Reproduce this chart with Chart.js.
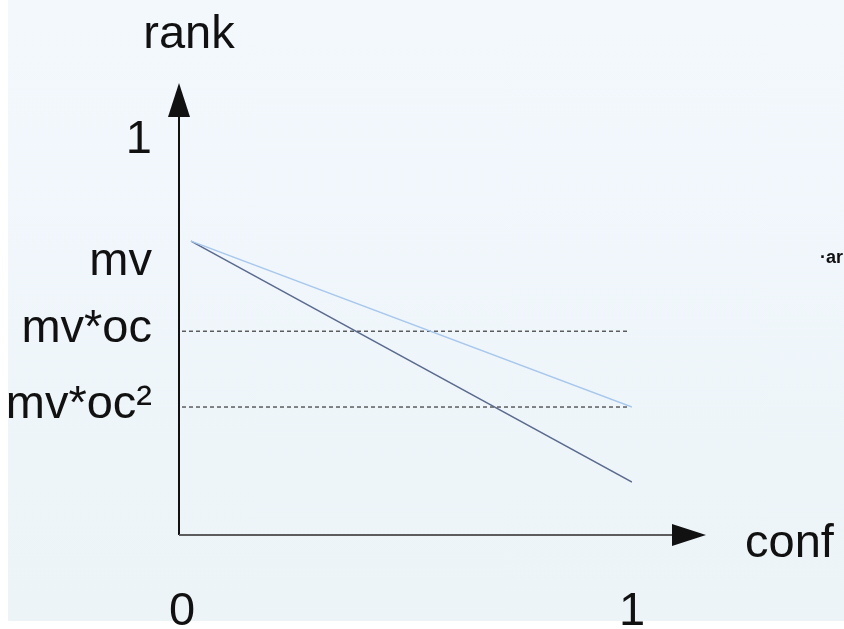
<!DOCTYPE html>
<html>
<head>
<meta charset="utf-8">
<script src="https://cdn.jsdelivr.net/npm/chart.js@4"></script>
<style>
  html, body { margin: 0; padding: 0; background: #ffffff; }
  #frame {
    position: absolute; left: 8px; top: 0; width: 836px; height: 621px;
    background: linear-gradient(#f3f8fd, #ecf4f8);
  }
  #wrap { position: absolute; left: 0; top: 0; width: 844px; height: 629px; }
</style>
</head>
<body>
<div id="frame"></div>
<div id="wrap"><canvas id="rankChart"></canvas></div>
<script>
// confidence on x, rank on y
const conf = [0.02, 1];
const rankSlow = [0.744, 0.324];   // decays down to mv*oc^2
const rankFast = [0.744, 0.134];
const guideConf = [0, 0.995];
const guideLevels = [0.516, 0.324]; // mv*oc, mv*oc^2

const yTickValues = [1, 0.691, 0.522, 0.33];
const yTickLabels = ["1", "mv", "mv*oc", "mv*oc\u00b2"];
const xTickValues = [0, 1];
const xTickLabels = ["0", "1"];

const FONT = "'Liberation Sans', Arial, sans-serif";
const SIZE = 47;

function pts(xs, ys) {
  return xs.map((x, i) => ({ x: x, y: ys[i] }));
}

const datasets = [
  { data: pts(conf, rankSlow), borderColor: "#a7c7ec", borderWidth: 1.5 },
  { data: pts(conf, rankFast), borderColor: "#5a6a8e", borderWidth: 1.5 }
];
guideLevels.forEach(level => {
  datasets.push({
    data: pts(guideConf, [level, level]),
    borderColor: "#111111",
    borderWidth: 1,
    borderDash: [4, 3]
  });
});

// axis lines with arrow heads plus the two axis names
const arrowAxes = {
  id: "arrowAxes",
  afterDatasetsDraw(chart) {
    const ctx = chart.ctx;
    const xs = chart.scales.x, ys = chart.scales.y;
    const ox = xs.getPixelForValue(0) - 3;
    const oy = ys.getPixelForValue(0);
    ctx.save();
    // y axis
    ctx.strokeStyle = "#111111";
    ctx.lineWidth = 2;
    ctx.beginPath();
    ctx.moveTo(ox, oy);
    ctx.lineTo(ox, 117);
    ctx.stroke();
    ctx.fillStyle = "#111111";
    ctx.beginPath();
    ctx.moveTo(ox, 83);
    ctx.lineTo(ox - 11, 117);
    ctx.lineTo(ox + 11, 117);
    ctx.closePath();
    ctx.fill();
    // x axis
    ctx.strokeStyle = "#5c5c5c";
    ctx.beginPath();
    ctx.moveTo(ox, oy);
    ctx.lineTo(672, oy);
    ctx.stroke();
    ctx.beginPath();
    ctx.moveTo(706, oy);
    ctx.lineTo(672, oy - 11);
    ctx.lineTo(672, oy + 11);
    ctx.closePath();
    ctx.fill();
    // names
    ctx.font = SIZE + "px " + FONT;
    ctx.fillStyle = "#111111";
    ctx.textBaseline = "alphabetic";
    ctx.textAlign = "center";
    ctx.fillText("rank", 189, 48);
    ctx.textAlign = "left";
    ctx.fillText("conf", 745, 557);
    ctx.font = "bold 18px " + FONT;
    ctx.fillText("\u00b7ar", 820, 263);
    ctx.restore();
  }
};

new Chart(document.getElementById("rankChart"), {
  type: "line",
  data: { datasets: datasets },
  options: {
    responsive: true,
    maintainAspectRatio: false,
    animation: false,
    layout: { padding: { top: 140, right: 212, left: 0, bottom: 0 } },
    elements: { point: { radius: 0 }, line: { tension: 0 } },
    plugins: { legend: { display: false }, tooltip: { enabled: false } },
    scales: {
      x: {
        type: "linear",
        min: 0,
        max: 1,
        border: { display: false },
        grid: { display: false, drawTicks: false },
        afterBuildTicks: s => { s.ticks = xTickValues.map(v => ({ value: v })); },
        afterFit: s => { s.height = 94; },
        ticks: {
          padding: 49,
          color: "#111111",
          font: { family: FONT, size: SIZE },
          callback: (v, i) => xTickLabels[i]
        }
      },
      y: {
        type: "linear",
        min: 0,
        max: 1,
        border: { display: false },
        grid: { display: false, drawTicks: false },
        afterBuildTicks: s => { s.ticks = yTickValues.map(v => ({ value: v })); },
        afterFit: s => { s.width = 182; },
        ticks: {
          padding: 30,
          color: "#111111",
          font: { family: FONT, size: SIZE },
          callback: (v, i) => yTickLabels[i]
        }
      }
    }
  },
  plugins: [arrowAxes]
});
</script>
</body>
</html>
